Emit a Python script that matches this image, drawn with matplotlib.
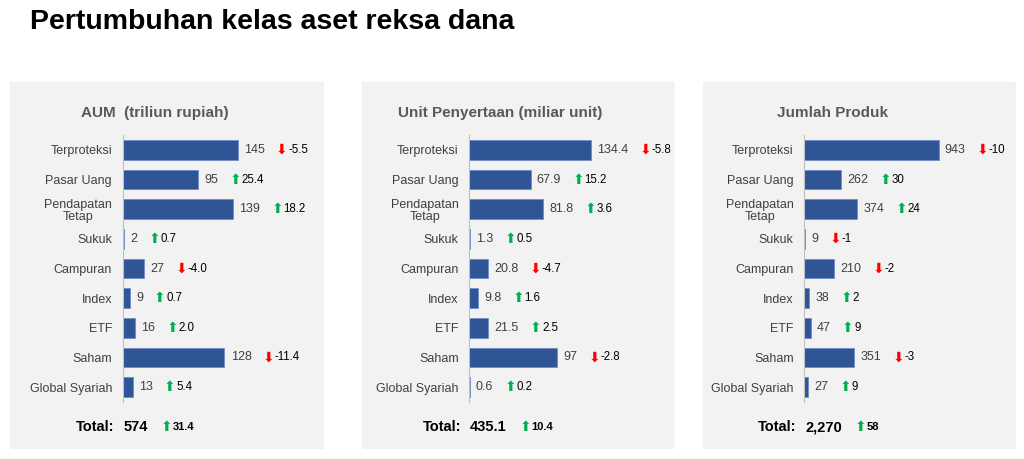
import matplotlib.pyplot as plt
from matplotlib.patches import Rectangle

plt.rcParams['font.family'] = ['Liberation Sans', 'DejaVu Sans']

# data
categories = ['Terproteksi', 'Pasar Uang', 'Pendapatan\nTetap', 'Sukuk', 'Campuran',
              'Index', 'ETF', 'Saham', 'Global Syariah']

aum = [145, 95, 139, 2, 27, 9, 16, 128, 13]
aum_delta = [-5.5, 25.4, 18.2, 0.7, -4.0, 0.7, 2.0, -11.4, 5.4]

unit = [134.4, 67.9, 81.8, 1.3, 20.8, 9.8, 21.5, 97, 0.6]
unit_delta = [-5.8, 15.2, 3.6, 0.5, -4.7, 1.6, 2.5, -2.8, 0.2]

produk = [943, 262, 374, 9, 210, 38, 47, 351, 27]
produk_delta = [-10, 30, 24, -1, -2, 2, 9, -3, 9]

totals = [574, 435.1, 2270]
total_delta = [31.4, 10.4, 58]

titles = ['AUM  (triliun rupiah)', 'Unit Penyertaan (miliar unit)', 'Jumlah Produk']

W, H = 1024, 459
fig = plt.figure(figsize=(W / 100, H / 100), dpi=100)

# panel layout in pixels: (bg_left, bg_right, axis_x, xmax, title_center, delta format)
panels = [
    (10, 323, 122.5, 252, 155, '{:.1f}'),
    (362, 673, 469, 225, 500, '{:.1f}'),
    (703, 1015, 804, 1478, 833, '{:g}'),
]
series = [(aum, aum_delta), (unit, unit_delta), (produk, produk_delta)]

BAR = '#2F5597'
UP = '#00B050'
DOWN = '#FF0000'
GREY = '#404040'

fig.text(30 / W, 1 - 22 / H, 'Pertumbuhan kelas aset reksa dana', fontsize=20.5,
         fontweight='bold', va='center', ha='left', color='black')


def add_arrow(ax, anchor, d, fmt, size, bold=False, gap=8):
    arrow = '⬆' if d > 0 else '⬇'
    col = UP if d > 0 else DOWN
    a = ax.annotate(arrow, xy=(1, 0.5), xycoords=anchor, xytext=(gap, 0),
                    textcoords='offset points', va='center', ha='left',
                    color=col, fontsize=10, family=['DejaVu Sans'])
    ax.annotate(fmt.format(d), xy=(1, 0.5), xycoords=a, xytext=(0.3, 0),
                textcoords='offset points', va='center', ha='left',
                color='black', fontsize=size,
                fontweight='bold' if bold else 'normal')


for k, (bl, br, ax_x, xmax, tc, dfmt) in enumerate(panels):
    fig.patches.append(Rectangle((bl / W, 1 - 448 / H), (br - bl) / W, (448 - 82) / H,
                                 transform=fig.transFigure, color='#F2F2F2', zorder=-5))
    fig.text(tc / W, 1 - 113 / H, titles[k], fontsize=11, fontweight='bold',
             color='#595959', ha='center', va='center')

    ax = fig.add_axes([ax_x / W, 1 - 402 / H, (br - ax_x) / W, (402 - 135) / H])
    ax.patch.set_visible(False)
    vals, deltas = series[k]
    y = list(range(len(categories)))
    ax.barh(y, vals, height=0.66, color=BAR, edgecolor='#6C88C4', linewidth=0.5)
    ax.set_xlim(0, xmax)
    ax.set_ylim(len(categories) - 0.5, -0.5)
    ax.set_xticks([])
    ax.set_yticks(y)
    ax.set_yticklabels(categories, fontsize=9, color=GREY, linespacing=1.05)
    for lab in ax.get_yticklabels():
        lab.set_multialignment('center')
    ax.tick_params(axis='y', length=0, pad=7.5)
    for s in ['top', 'right', 'bottom']:
        ax.spines[s].set_visible(False)
    ax.spines['left'].set_color('#BFBFBF')
    ax.spines['left'].set_linewidth(0.8)

    for i, (v, d) in enumerate(zip(vals, deltas)):
        t = ax.annotate('{:g}'.format(v), xy=(v, i), xytext=(4.5, 0),
                        textcoords='offset points', va='center', ha='left',
                        fontsize=9, color=GREY)
        add_arrow(ax, t, d, dfmt, 8.3)

    # total row
    ty = 1 - 431 / H
    fig.text((ax_x - 8) / W, ty, 'Total:', fontsize=10.5, fontweight='bold',
             ha='right', va='baseline')
    tv = fig.text((ax_x + 1) / W, ty, '{:,g}'.format(totals[k]), fontsize=10.5,
                  fontweight='bold', ha='left', va='baseline')
    add_arrow(ax, tv, total_delta[k], '{:g}', 8, bold=True, gap=9)

fig.savefig('out.png', dpi=100, facecolor='white')
